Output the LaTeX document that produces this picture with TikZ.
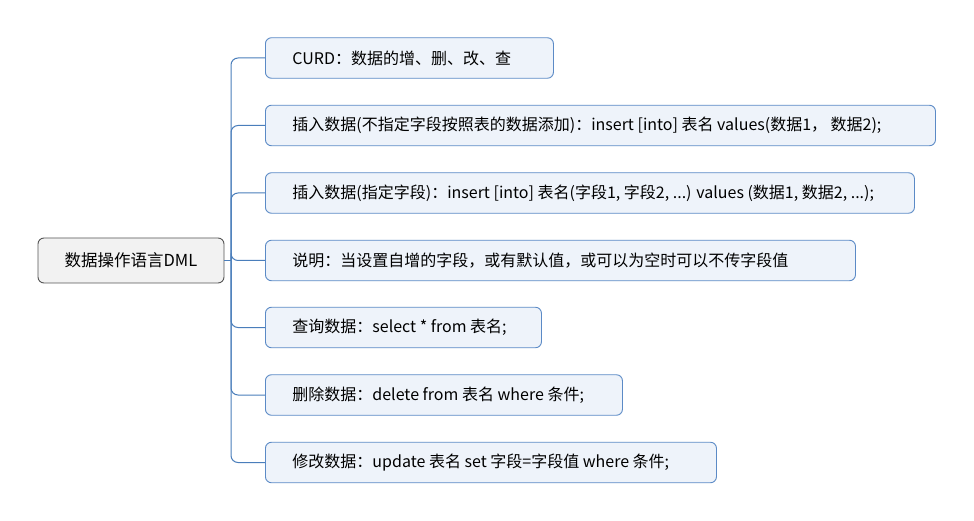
\documentclass[tikz,border=0pt]{standalone}
\usepackage{fontspec}
\setmainfont{Noto Sans CJK SC}
\newcommand{\lbox}[2]{\makebox[#1][l]{#2}}
\begin{document}
\begin{tikzpicture}[x=1pt,y=-1pt,
  conn/.style={draw=linec,line width=1pt},
  root/.style={draw=rootb,fill=rootf,rounded corners=6pt,line width=0.9pt,minimum height=45pt,minimum width=186pt,inner sep=0pt,font=\fontsize{16.5}{20}\selectfont},
  leaf/.style={draw=leafb,fill=leaff,rounded corners=6pt,line width=0.9pt,minimum height=40.5pt,inner xsep=27pt,inner ysep=0pt,anchor=west,font=\fontsize{16}{20}\selectfont}]
\definecolor{linec}{HTML}{4A7EBB}
\definecolor{leafb}{HTML}{5B8AC6}
\definecolor{leaff}{HTML}{EEF3FA}
\definecolor{rootb}{HTML}{555555}
\definecolor{rootf}{HTML}{F2F2F2}
\useasboundingbox[fill=white] (0,0) rectangle (974,521);
\node[root] (root) at (131,260.5) {数据操作语言DML};
\node[leaf] (c1) at (265,58) {\lbox{234pt}{CURD：数据的增、删、改、查}};
\node[leaf] (c2) at (265,125.5) {\lbox{616pt}{插入数据(不指定字段按照表的数据添加)：insert [into] 表名 values(数据1， 数据2);}};
\node[leaf] (c3) at (265,193) {\lbox{595pt}{插入数据(指定字段)：insert [into] 表名(字段1, 字段2, ...) values (数据1, 数据2, ...);}};
\node[leaf] (c4) at (265,260.5) {\lbox{536pt}{说明：当设置自增的字段，或有默认值，或可以为空时可以不传字段值}};
\node[leaf] (c5) at (265,327.5) {\lbox{222pt}{查询数据：select * from 表名;}};
\node[leaf] (c6) at (265,395) {\lbox{303pt}{删除数据：delete from 表名 where 条件;}};
\node[leaf] (c7) at (265,462.5) {\lbox{397pt}{修改数据：update 表名 set 字段=字段值 where 条件;}};
\coordinate (sp) at (231,260.5);
\draw[conn] (root.east) -- (sp);
\foreach \c in {c1,c2,c3,c4,c5,c6,c7}{
  \draw[conn,rounded corners=7pt] (sp) |- (\c.west);
}
\end{tikzpicture}
\end{document}
